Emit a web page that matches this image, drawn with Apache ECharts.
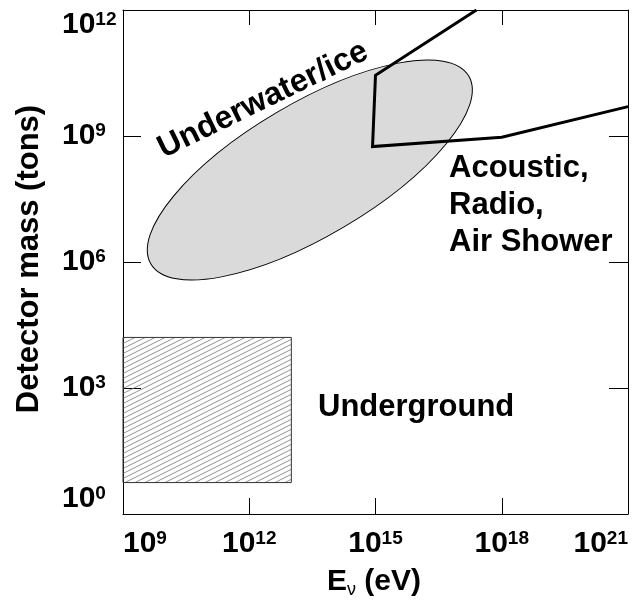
<!DOCTYPE html>
<html>
<head>
<meta charset="utf-8">
<script src="https://cdn.jsdelivr.net/npm/echarts@6/dist/echarts.min.js"></script>
<style>
  html, body { margin: 0; padding: 0; background: #fff; }
  #chart { width: 636px; height: 601px; }
</style>
</head>
<body>
<div id="chart"></div>
<script>
// ---- Data -----------------------------------------------------------
// Axis ranges (neutrino energy in eV, detector mass in tons)
const energyRange = [1e9, 1e21];
const massRange = [1e0, 1e12];
const tickStepDecades = 3;

// Underground detectors: box in (energy, mass)
const undergroundEnergy = [1e9, 1e13];
const undergroundMass = [5.6, 1.6e4];

// Underwater / ice detectors: tilted ellipse in log-log space
const underwaterCenterEnergy = 2.75e13;
const underwaterCenterMass = 1.55e8;
const underwaterSemiAxesDecades = [4.39, 1.58];
const underwaterTiltDeg = 30.6;

// Acoustic / radio / air-shower boundary
const boundaryEnergy = [2.5e17, 1e15, 8.5e14, 1e18, 1e21];
const boundaryMass   = [1e12, 2.8e10, 5.6e8, 9.3e8, 5.0e9];

// ---- Styling helpers -------------------------------------------------
const FONT = '"Liberation Sans", Arial, Helvetica, sans-serif';

function hatchPattern() {
  const w = 10, h = 5;
  const c = document.createElement('canvas');
  c.width = w; c.height = h;
  const g = c.getContext('2d');
  g.strokeStyle = '#777';
  g.lineWidth = 0.8;
  g.beginPath();
  for (const off of [-h, 0, h]) {
    g.moveTo(-w, 2 * h + off);
    g.lineTo(2 * w, -h + off);
  }
  g.stroke();
  return { image: c, repeat: 'repeat' };
}

function powerLabel(v) {
  const e = Math.round(Math.log10(v));
  return '{b|10}{s|' + e + '}';
}
const powerRich = {
  b: { fontFamily: FONT, fontWeight: 'bold', fontSize: 30, color: '#000', lineHeight: 30 },
  s: { fontFamily: FONT, fontWeight: 'bold', fontSize: 19, color: '#000', lineHeight: 20, verticalAlign: 'top' }
};

function logAxis(extra, range) {
  return Object.assign({
    type: 'log',
    logBase: 10,
    min: range[0],
    max: range[1],
    interval: tickStepDecades,
    splitLine: { show: false },
    minorTick: { show: false },
    axisLine: { show: true, onZero: false, lineStyle: { color: '#000', width: 1 } },
    axisTick: { show: true, inside: true, length: 16, lineStyle: { color: '#000', width: 1 } },
    axisLabel: { show: false }
  }, extra);
}

const chart = echarts.init(document.getElementById('chart'), null, { renderer: 'canvas' });

chart.setOption({
  animation: false,
  backgroundColor: '#fff',
  grid: { left: 123, top: 10, right: 8, bottom: 87, containLabel: false },
  xAxis: [
    logAxis({
      position: 'bottom',
      axisLabel: {
        show: true, margin: 15, formatter: powerLabel, rich: powerRich,
        alignMinLabel: 'left', alignMaxLabel: 'right'
      }
    }, energyRange),
    logAxis({ position: 'top', axisTick: { show: true, inside: true, length: 15, lineStyle: { color: '#000' } } }, energyRange)
  ],
  yAxis: [
    logAxis({
      position: 'left',
      axisTick: { show: true, inside: true, length: 18, lineStyle: { color: '#000' } },
      axisLabel: {
        show: true, margin: 61, align: 'left', formatter: powerLabel, rich: powerRich,
        verticalAlignMinLabel: 'bottom', verticalAlignMaxLabel: 'top'
      }
    }, massRange),
    logAxis({ position: 'right', axisTick: { show: true, inside: true, length: 19, lineStyle: { color: '#000' } } }, massRange)
  ],
  series: [
    {
      // Underground detectors (hatched box)
      type: 'custom',
      xAxisIndex: 0, yAxisIndex: 0,
      silent: true,
      data: [[undergroundEnergy[0], undergroundMass[0], undergroundEnergy[1], undergroundMass[1]]],
      encode: { x: [0, 2], y: [1, 3] },
      renderItem: function (params, api) {
        const p0 = api.coord([api.value(0), api.value(1)]);
        const p1 = api.coord([api.value(2), api.value(3)]);
        return {
          type: 'rect',
          shape: { x: p0[0], y: p1[1], width: p1[0] - p0[0], height: p0[1] - p1[1] },
          style: { fill: hatchPattern(), stroke: '#333', lineWidth: 1 }
        };
      },
      z: 2
    },
    {
      // Underwater / ice detectors (tilted ellipse)
      type: 'custom',
      xAxisIndex: 0, yAxisIndex: 0,
      silent: true,
      data: [[underwaterCenterEnergy, underwaterCenterMass]],
      renderItem: function (params, api) {
        const e = api.value(0), m = api.value(1);
        const c = api.coord([e, m]);
        const cx10 = api.coord([e * 10, m]);
        const cy10 = api.coord([e, m * 10]);
        const kx = cx10[0] - c[0];
        const ky = c[1] - cy10[1];
        const t = underwaterTiltDeg * Math.PI / 180;
        const rx = underwaterSemiAxesDecades[0] * Math.hypot(Math.cos(t) * kx, Math.sin(t) * ky);
        const ry = underwaterSemiAxesDecades[1] * Math.hypot(Math.sin(t) * kx, Math.cos(t) * ky);
        return {
          type: 'ellipse',
          x: c[0], y: c[1],
          rotation: t,
          shape: { cx: 0, cy: 0, rx: rx, ry: ry },
          style: { fill: '#dadada', stroke: '#000', lineWidth: 1 }
        };
      },
      z: 3
    },
    {
      // Acoustic / radio / air-shower reach
      type: 'line',
      xAxisIndex: 0, yAxisIndex: 0,
      data: boundaryEnergy.map((e, i) => [e, boundaryMass[i]]),
      showSymbol: false,
      symbol: 'none',
      clip: true,
      lineStyle: { color: '#000', width: 3, join: 'miter' },
      z: 4
    }
  ],
  graphic: [
    {
      type: 'text', left: 318, top: 392, z: 10,
      style: { text: 'Underground', font: 'bold 31px ' + FONT, fill: '#000' }
    },
    {
      type: 'text', left: 449, top: 150, z: 10,
      style: { text: 'Acoustic,\nRadio,\nAir Shower', font: 'bold 31px ' + FONT, lineHeight: 37, fill: '#000' }
    },
    {
      type: 'text', x: 263, y: 100, rotation: 26 * Math.PI / 180, z: 10,
      style: { text: 'Underwater/ice', font: 'bold 32px ' + FONT, fill: '#000', align: 'center', verticalAlign: 'middle' }
    },
    {
      type: 'text', x: 29, y: 259, rotation: Math.PI / 2, z: 10,
      style: { text: 'Detector mass (tons)', font: 'bold 31px ' + FONT, fill: '#000', align: 'center', verticalAlign: 'middle' }
    },
    {
      type: 'text', x: 374, y: 582, z: 10,
      style: {
        text: '{e|E}{v|ν}{e| (eV)}',
        align: 'center', verticalAlign: 'middle',
        rich: {
          e: { fontFamily: FONT, fontWeight: 'bold', fontSize: 30, lineHeight: 34, fill: '#000' },
          v: { fontFamily: FONT, fontSize: 18, lineHeight: 24, verticalAlign: 'bottom', fill: '#000' }
        }
      }
    }
  ]
});
</script>
</body>
</html>
